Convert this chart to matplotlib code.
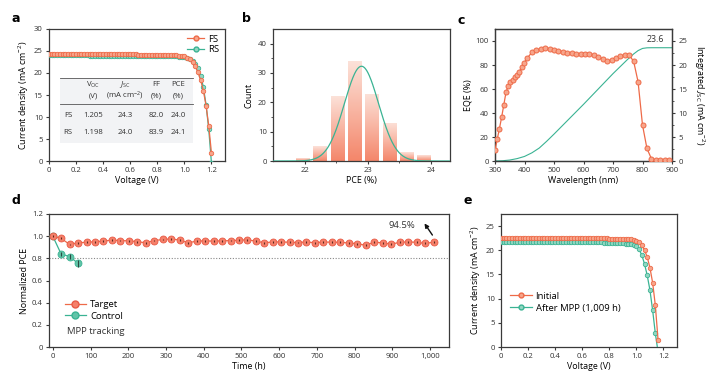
import numpy as np
import matplotlib
matplotlib.use("Agg")
import matplotlib.pyplot as plt
from matplotlib.patches import Rectangle
from matplotlib.colors import LinearSegmentedColormap
from matplotlib.lines import Line2D

plt.rcParams['font.family'] = ['Open Sans', 'DejaVu Sans']
plt.rcParams['mathtext.fontset'] = 'custom'
plt.rcParams['mathtext.rm'] = 'Open Sans'
plt.rcParams['mathtext.it'] = 'Open Sans:italic'

# ---------------- data ----------------
# panel a: J-V curves
volt_a = [0.00, 0.02, 0.04, 0.06, 0.08, 0.10, 0.12, 0.14, 0.16, 0.18,
          0.20, 0.22, 0.24, 0.26, 0.28, 0.30, 0.32, 0.34, 0.36, 0.38,
          0.40, 0.42, 0.44, 0.46, 0.48, 0.50, 0.52, 0.54, 0.56, 0.58,
          0.60, 0.62, 0.64, 0.66, 0.68, 0.70, 0.72, 0.74, 0.76, 0.78,
          0.80, 0.82, 0.84, 0.86, 0.88, 0.90, 0.92, 0.94, 0.96, 0.98,
          1.00, 1.02, 1.04, 1.06, 1.08, 1.10, 1.12, 1.14, 1.16, 1.18, 1.20]
j_fs = [24.30, 24.30, 24.30, 24.30, 24.29, 24.29, 24.29, 24.29, 24.28, 24.28,
        24.28, 24.28, 24.27, 24.27, 24.27, 24.27, 24.26, 24.26, 24.26, 24.26,
        24.25, 24.25, 24.25, 24.24, 24.24, 24.24, 24.23, 24.23, 24.23, 24.22,
        24.22, 24.21, 24.21, 24.20, 24.20, 24.19, 24.18, 24.18, 24.17, 24.16,
        24.15, 24.14, 24.13, 24.12, 24.10, 24.08, 24.05, 24.01, 23.95, 23.87,
        23.75, 23.52, 23.12, 22.50, 21.55, 20.15, 18.40, 16.00, 12.60, 8.00, 1.80]
j_rs = [24.00, 24.00, 24.00, 24.00, 24.00, 23.99, 23.99, 23.99, 23.99, 23.99,
        23.98, 23.98, 23.98, 23.98, 23.98, 23.97, 23.97, 23.97, 23.97, 23.97,
        23.96, 23.96, 23.96, 23.96, 23.95, 23.95, 23.95, 23.95, 23.94, 23.94,
        23.94, 23.93, 23.93, 23.93, 23.92, 23.92, 23.91, 23.91, 23.90, 23.90,
        23.89, 23.88, 23.87, 23.86, 23.85, 23.83, 23.81, 23.78, 23.74, 23.68,
        23.58, 23.42, 23.18, 22.80, 22.15, 21.10, 19.40, 16.80, 12.80, 7.20, -0.50]
table_rows = ["FS", "RS"]
table_voc = ["1.205", "1.198"]
table_jsc = ["24.3", "24.0"]
table_ff = ["82.0", "83.9"]
table_pce = ["24.0", "24.1"]

# panel b: PCE histogram
pce_bins = [21.97, 22.24, 22.52, 22.79, 23.06, 23.34, 23.61, 23.88]
pce_counts = [1, 5, 22, 34, 23, 13, 3, 2]
fit_center = 22.9
fit_sigma = 0.27
fit_peak = 32.3

# panel c: EQE
wl = [300, 307.5, 315, 322.5, 330, 337.5, 345, 352.5, 360, 367.5, 375, 382.5, 390, 397.5,
      410, 425, 440, 455, 470, 485, 500, 515, 530, 545, 560, 575, 590, 605, 620, 635,
      650, 665, 680, 695, 710, 725, 740, 755, 770, 785, 800, 815, 830, 845, 860, 875, 890]
eqe = [9, 18, 27, 36.5, 47, 57.5, 62.5, 65.5, 67.5, 70, 72, 74.5, 78, 81.5,
       86, 90.5, 92.5, 93.3, 94, 93.3, 92.5, 92, 91, 90.3, 89.7, 89.4, 89.2, 89.2, 89, 88.3,
       87, 85, 83.3, 84, 86, 87.5, 88.3, 88.3, 83, 66, 30, 10.5, 2, 0.8, 0.5, 0.5, 0.5]
wl_int = [300, 325, 350, 375, 400, 425, 450, 475, 500, 550, 600, 650, 700, 750,
          770, 785, 800, 815, 830, 900]
jsc_int = [0, 0.05, 0.2, 0.5, 0.95, 1.7, 2.7, 4.1, 5.6, 8.7, 11.8, 15.0, 18.2, 21.2,
           22.3, 23.0, 23.45, 23.58, 23.6, 23.6]
jsc_label = "23.6"

# panel d: MPP tracking
time_target = [0, 22, 45, 67, 90, 112, 134, 157, 179, 202, 224, 247, 269, 291, 314, 336,
               359, 381, 403, 426, 448, 471, 493, 515, 538, 560, 583, 605, 628, 650, 672,
               695, 717, 740, 762, 784, 807, 829, 852, 874, 897, 919, 942, 964, 986, 1009]
pce_target = [1.00, 0.98, 0.925, 0.94, 0.945, 0.95, 0.955, 0.965, 0.96, 0.958, 0.95, 0.94,
              0.96, 0.97, 0.975, 0.965, 0.94, 0.955, 0.958, 0.955, 0.958, 0.96, 0.963, 0.968,
              0.955, 0.94, 0.948, 0.948, 0.945, 0.942, 0.948, 0.94, 0.948, 0.945, 0.945,
              0.938, 0.932, 0.918, 0.945, 0.94, 0.927, 0.945, 0.948, 0.945, 0.935, 0.945]
err_target = 0.008
time_control = [0, 22, 45, 67]
pce_control = [1.0, 0.84, 0.815, 0.755]
err_control = [0.01, 0.015, 0.025, 0.03]
retention_label = "94.5%"

# panel e: J-V before / after MPP
volt_e = [0.00, 0.02, 0.04, 0.06, 0.08, 0.10, 0.12, 0.14, 0.16, 0.18,
          0.20, 0.22, 0.24, 0.26, 0.28, 0.30, 0.32, 0.34, 0.36, 0.38,
          0.40, 0.42, 0.44, 0.46, 0.48, 0.50, 0.52, 0.54, 0.56, 0.58,
          0.60, 0.62, 0.64, 0.66, 0.68, 0.70, 0.72, 0.74, 0.76, 0.78,
          0.80, 0.82, 0.84, 0.86, 0.88, 0.90, 0.92, 0.94, 0.96, 0.98,
          1.00, 1.02, 1.04, 1.06, 1.08, 1.10, 1.12, 1.14, 1.16]
j_initial = [22.60, 22.60, 22.60, 22.60, 22.59, 22.59, 22.59, 22.59, 22.58, 22.58,
             22.58, 22.58, 22.57, 22.57, 22.57, 22.57, 22.56, 22.56, 22.56, 22.56,
             22.55, 22.55, 22.55, 22.54, 22.54, 22.54, 22.53, 22.53, 22.52, 22.52,
             22.51, 22.51, 22.50, 22.50, 22.49, 22.48, 22.47, 22.46, 22.45, 22.44,
             22.43, 22.42, 22.41, 22.40, 22.38, 22.36, 22.33, 22.29, 22.23, 22.14,
             22.00, 21.70, 21.05, 20.05, 18.60, 16.40, 13.30, 8.60, 1.50]
j_after = [21.75, 21.75, 21.75, 21.75, 21.74, 21.74, 21.74, 21.74, 21.73, 21.73,
           21.73, 21.73, 21.72, 21.72, 21.72, 21.72, 21.71, 21.71, 21.71, 21.71,
           21.70, 21.70, 21.70, 21.69, 21.69, 21.69, 21.68, 21.68, 21.67, 21.67,
           21.66, 21.66, 21.65, 21.65, 21.64, 21.63, 21.62, 21.61, 21.60, 21.59,
           21.58, 21.56, 21.54, 21.52, 21.49, 21.45, 21.39, 21.31, 21.20, 21.02,
           20.90, 20.20, 19.00, 17.20, 14.80, 11.80, 7.60, 2.80, -1.00]

# ---------------- style ----------------
ORANGE = '#EE6A48'
ORANGE_FACE = '#F7A58B'
TEAL = '#3AB393'
TEAL_FACE = '#93D6C1'
SPINE = '#3a3a3a'
TICK_FS = 5.6
LABEL_FS = 6.4
LEG_FS = 6.8

fig = plt.figure(figsize=(7.25, 3.8), dpi=100)


def style_axes(ax):
    for s in ax.spines.values():
        s.set_color(SPINE)
        s.set_linewidth(0.9)
    ax.tick_params(direction='out', length=2.5, width=0.8, color=SPINE,
                   labelsize=TICK_FS, pad=2, labelcolor='#333333')
    ax.tick_params(which='minor', direction='out', length=1.5, width=0.6, color=SPINE)


def panel_letter(x_px, y_px, letter):
    fig.text(x_px / 725, 1 - y_px / 380, letter, fontsize=9, fontweight='bold',
             ha='left', va='center', family='DejaVu Sans')


# ---------------- panel a ----------------
axa = fig.add_axes([49 / 725, 1 - 161 / 380, 176 / 725, 132 / 380])
style_axes(axa)
axa.plot(volt_a, j_rs, '-o', color=TEAL, lw=0.9, ms=3.2, mfc=TEAL_FACE, mec=TEAL, mew=0.6,
         label='RS', zorder=3)
axa.plot(volt_a, j_fs, '-o', color=ORANGE, lw=0.9, ms=3.2, mfc=ORANGE_FACE, mec=ORANGE, mew=0.6,
         label='FS', zorder=4)
axa.set_xlim(0, 1.3)
axa.set_ylim(0, 30)
axa.set_xticks([0, 0.2, 0.4, 0.6, 0.8, 1.0, 1.2])
axa.set_xticklabels(['0', '0.2', '0.4', '0.6', '0.8', '1.0', '1.2'])
axa.set_yticks([0, 5, 10, 15, 20, 25, 30])
axa.set_xlabel('Voltage (V)', fontsize=LABEL_FS, labelpad=1.5)
axa.set_ylabel('Current density (mA cm$^{-2}$)', fontsize=LABEL_FS, labelpad=2)
h_fs = Line2D([], [], color=ORANGE, lw=0.9, marker='o', ms=3.5, mfc=ORANGE_FACE, mec=ORANGE)
h_rs = Line2D([], [], color=TEAL, lw=0.9, marker='o', ms=3.5, mfc=TEAL_FACE, mec=TEAL)
axa.legend([h_fs, h_rs], ['FS', 'RS'], loc='upper right', frameon=False, fontsize=LEG_FS,
           handlelength=1.8, handletextpad=0.4, labelspacing=0.15, borderaxespad=0.2,
           bbox_to_anchor=(1.0, 1.0))
# inset table
axa.add_patch(Rectangle((0.0625, 0.136), 0.755, 0.493, transform=axa.transAxes,
                        facecolor='#f2f3f5', edgecolor='none', zorder=1))
axa.plot([0.0625, 0.8175], [0.629, 0.629], transform=axa.transAxes, color='#555555', lw=0.6, zorder=2)
axa.plot([0.0625, 0.8175], [0.4295, 0.4295], transform=axa.transAxes, color='#555555', lw=0.6, zorder=2)
col_x = [0.108, 0.25, 0.432, 0.608, 0.733]
tfs = 5.6
hdr1 = ['', 'V$_{\\rm OC}$', '$J_{\\rm SC}$', 'FF', 'PCE']
hdr2 = ['', '(V)', '(mA cm$^{-2}$)', '(%)', '(%)']
for cx, h1, h2 in zip(col_x, hdr1, hdr2):
    axa.text(cx, 0.580, h1, transform=axa.transAxes, ha='center', va='center', fontsize=tfs, color='#333', zorder=3)
    axa.text(cx, 0.495, h2, transform=axa.transAxes, ha='center', va='center', fontsize=tfs, color='#333', zorder=3)
for ry, lab, voc, jsc, ff, pce in zip([0.341, 0.214], table_rows, table_voc, table_jsc, table_ff, table_pce):
    for cx, val in zip(col_x, [lab, voc, jsc, ff, pce]):
        axa.text(cx, ry, val, transform=axa.transAxes, ha='center', va='center', fontsize=tfs,
                 color='#333', zorder=3)

# ---------------- panel b ----------------
axb = fig.add_axes([273 / 725, 1 - 161 / 380, 177 / 725, 132 / 380])
style_axes(axb)
cmap = LinearSegmentedColormap.from_list('bar', ['#F4866A', '#FCE2D9'])
bar_w = 0.21
grad = np.linspace(0, 1, 256).reshape(-1, 1)
for xc, cnt in zip(pce_bins, pce_counts):
    rect = Rectangle((xc - bar_w / 2, 0), bar_w, cnt, facecolor='none', edgecolor='none')
    axb.add_patch(rect)
    im = axb.imshow(grad, extent=[xc - bar_w / 2, xc + bar_w / 2, 0, cnt], origin='lower',
                    cmap=cmap, aspect='auto', zorder=1, interpolation='bilinear')
    im.set_clip_path(rect)
xs = np.linspace(21.5, 24.3, 400)
axb.plot(xs, fit_peak * np.exp(-(xs - fit_center) ** 2 / (2 * fit_sigma ** 2)), color=TEAL, lw=0.9, zorder=3)
axb.set_xlim(21.5, 24.3)
axb.set_ylim(0, 45)
axb.set_xticks([22, 23, 24])
axb.set_xticks([22.5, 23.5], minor=True)
axb.set_yticks([0, 10, 20, 30, 40])
axb.set_yticks([5, 15, 25, 35], minor=True)
axb.set_xlabel('PCE (%)', fontsize=LABEL_FS, labelpad=1.5)
axb.set_ylabel('Count', fontsize=LABEL_FS, labelpad=3)

# ---------------- panel c ----------------
axc = fig.add_axes([495 / 725, 1 - 161 / 380, 177 / 725, 132 / 380])
style_axes(axc)
axc2 = axc.twinx()
style_axes(axc2)
axc2.plot(wl_int, jsc_int, color=TEAL, lw=0.8, zorder=2)
axc.plot(wl, eqe, '-o', color=ORANGE, lw=0.9, ms=3.6, mfc=ORANGE_FACE, mec=ORANGE, mew=0.7, zorder=3)
axc.set_zorder(axc2.get_zorder() + 1)
axc.patch.set_visible(False)
axc.set_xlim(300, 900)
axc.set_ylim(0, 110)
axc2.set_ylim(0, 27.5)
axc.set_xticks([300, 400, 500, 600, 700, 800, 900])
axc.set_yticks([0, 20, 40, 60, 80, 100])
axc2.set_yticks([0, 5, 10, 15, 20, 25])
axc2.set_yticks([2.5, 7.5, 12.5, 17.5, 22.5], minor=True)
axc.set_xlabel('Wavelength (nm)', fontsize=LABEL_FS, labelpad=1.5)
axc.set_ylabel('EQE (%)', fontsize=LABEL_FS, labelpad=2)
axc2.set_ylabel('Integrated $J_{\\rm SC}$ (mA cm$^{-2}$)', fontsize=LABEL_FS, rotation=270,
                va='center', ha='center')
axc2.yaxis.set_label_coords(1.155, 0.5)
axc2.text(843, 25.3, jsc_label, ha='center', va='center', fontsize=LABEL_FS, color='#333')

# ---------------- panel d ----------------
axd = fig.add_axes([49 / 725, 1 - 347 / 380, 400 / 725, 133 / 380])
style_axes(axd)
MS_D = 5.0
axd.axhline(0.8, color='#888888', lw=0.8, ls=(0, (1, 1.5)), zorder=1)
axd.plot(time_control, pce_control, '-o', color=TEAL, lw=0.9, ms=MS_D, mfc='#62C4A8', mec=TEAL, mew=0.6, zorder=3)
axd.errorbar(time_control, pce_control, yerr=err_control, fmt='none', ecolor='#2b4a42', elinewidth=0.8, zorder=4)
axd.plot(time_target, pce_target, '-o', color=ORANGE, lw=0.9, ms=MS_D, mfc='#F5806A', mec='#E85A45', mew=0.6, zorder=5)
axd.errorbar(time_target, pce_target, yerr=err_target, fmt='none', ecolor='#5a2a20', elinewidth=0.8, zorder=6)
axd.set_xlim(-10, 1050)
axd.set_ylim(0, 1.2)
axd.set_xticks([0, 100, 200, 300, 400, 500, 600, 700, 800, 900, 1000])
axd.set_xticklabels(['0', '100', '200', '300', '400', '500', '600', '700', '800', '900', '1,000'])
axd.set_yticks([0, 0.2, 0.4, 0.6, 0.8, 1.0, 1.2])
axd.set_yticklabels(['0', '0.2', '0.4', '0.6', '0.8', '1.0', '1.2'])
axd.set_xlabel('Time (h)', fontsize=LABEL_FS, labelpad=1.5)
axd.set_ylabel('Normalized PCE', fontsize=LABEL_FS, labelpad=2)
h_t = Line2D([], [], color=ORANGE, lw=0.9, marker='o', ms=MS_D, mfc='#F5806A', mec='#E85A45')
h_c = Line2D([], [], color=TEAL, lw=0.9, marker='o', ms=MS_D, mfc='#62C4A8', mec=TEAL)
axd.legend([h_t, h_c], ['Target', 'Control'], loc='lower left', bbox_to_anchor=(0.03, 0.17),
           frameon=False, fontsize=LEG_FS, handlelength=2.2, handletextpad=0.5, labelspacing=0.25,
           borderaxespad=0)
axd.text(0.044, 0.115, 'MPP tracking', transform=axd.transAxes, fontsize=LEG_FS, ha='left',
         va='center', color='#333')
axd.annotate('', xy=(985, 1.115), xytext=(1006, 1.01),
             arrowprops=dict(arrowstyle='-|>', color='#111111', lw=1.0, mutation_scale=6,
                             shrinkA=0, shrinkB=0))
axd.text(926, 1.095, retention_label, fontsize=LEG_FS, ha='center', va='center', color='#333')

# ---------------- panel e ----------------
axe = fig.add_axes([501 / 725, 1 - 347 / 380, 176 / 725, 133 / 380])
style_axes(axe)
axe.plot(volt_e, j_after, '-o', color=TEAL, lw=0.9, ms=3.2, mfc=TEAL_FACE, mec=TEAL, mew=0.6, zorder=3)
axe.plot(volt_e, j_initial, '-o', color=ORANGE, lw=0.9, ms=3.2, mfc=ORANGE_FACE, mec=ORANGE, mew=0.6, zorder=4)
axe.set_xlim(0, 1.3)
axe.set_ylim(0, 27.5)
axe.set_xticks([0, 0.2, 0.4, 0.6, 0.8, 1.0, 1.2])
axe.set_xticklabels(['0', '0.2', '0.4', '0.6', '0.8', '1.0', '1.2'])
axe.set_yticks([0, 5, 10, 15, 20, 25])
axe.set_xlabel('Voltage (V)', fontsize=LABEL_FS, labelpad=1.5)
axe.set_ylabel('Current density (mA cm$^{-2}$)', fontsize=LABEL_FS, labelpad=2)
h_i = Line2D([], [], color=ORANGE, lw=0.9, marker='o', ms=3.5, mfc=ORANGE_FACE, mec=ORANGE)
h_a = Line2D([], [], color=TEAL, lw=0.9, marker='o', ms=3.5, mfc=TEAL_FACE, mec=TEAL)
axe.legend([h_i, h_a], ['Initial', 'After MPP (1,009 h)'], loc='lower left', bbox_to_anchor=(0.03, 0.23),
           frameon=False, fontsize=LEG_FS, handlelength=2.3, handletextpad=0.4, labelspacing=0.3,
           borderaxespad=0)

panel_letter(12, 19, 'a')
panel_letter(242, 19, 'b')
panel_letter(457, 20, 'c')
panel_letter(12, 201, 'd')
panel_letter(463, 201, 'e')

fig.savefig('out.png', dpi=100)
